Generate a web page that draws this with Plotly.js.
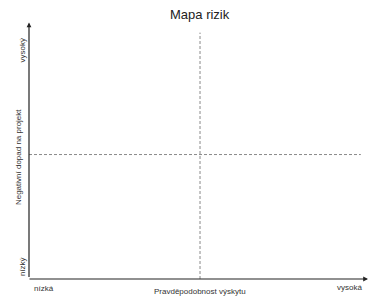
<!DOCTYPE html>
<html><head><meta charset="utf-8">
<script src="https://cdn.plot.ly/plotly-3.0.1.min.js"></script>
<style>html,body{margin:0;padding:0;background:#fff}#chart{width:369px;height:302px}</style>
</head><body><div id="chart"></div>
<script>
var chartTitle = "Mapa rizik";
var xTitle = "Pravděpodobnost výskytu";
var yTitle = "Negativní dopad na projekt";
var xTickLabels = ["nízká", "vysoká"];
var yTickLabels = ["nízký", "vysoký"];
var xDivider = [0.503, 0.503];
var xDividerSpan = [0, 0.97];
var yDivider = [0.49, 0.49];
var yDividerSpan = [0, 0.976];

var font = "Liberation Sans, Arial, sans-serif";
var traces = [
  {x: xDivider, y: xDividerSpan, mode: "lines", line: {color: "#8a8a8a", width: 1, dash: "3px,2px"}, hoverinfo: "skip"},
  {x: yDividerSpan, y: yDivider, mode: "lines", line: {color: "#8a8a8a", width: 1, dash: "3px,2px"}, hoverinfo: "skip"}
];
var ann = [
  {xref: "paper", yref: "paper", x: 0.503, y: 1, yshift: 11, text: chartTitle, showarrow: false, font: {family: font, size: 13, color: "#222"}, yanchor: "middle"},
  {xref: "paper", yref: "paper", x: 0.503, y: 0, yshift: -6, text: xTitle, showarrow: false, font: {family: font, size: 8, color: "#333"}, yanchor: "top"},
  {xref: "paper", yref: "paper", x: 0, xshift: -11, y: 0.48, text: yTitle, textangle: -90, showarrow: false, font: {family: font, size: 8, color: "#333"}, xanchor: "center"},
  {xref: "paper", yref: "paper", x: 0.008, y: 0, yshift: -3, text: xTickLabels[0], showarrow: false, font: {family: font, size: 8, color: "#333"}, xanchor: "left", yanchor: "top"},
  {xref: "paper", yref: "paper", x: 0.985, y: 0, yshift: -2, text: xTickLabels[1], showarrow: false, font: {family: font, size: 8, color: "#333"}, xanchor: "right", yanchor: "top"},
  {xref: "paper", yref: "paper", x: 0, xshift: -7, y: 0.047, text: yTickLabels[0], textangle: -90, showarrow: false, font: {family: font, size: 8, color: "#333"}, xanchor: "center", yanchor: "middle"},
  {xref: "paper", yref: "paper", x: 0, xshift: -7, y: 0.90, text: yTickLabels[1], textangle: -90, showarrow: false, font: {family: font, size: 8, color: "#333"}, xanchor: "center", yanchor: "middle"},
  {xref: "paper", yref: "paper", axref: "pixel", ayref: "pixel", x: 0, y: 1.01, ax: 0, ay: 256, showarrow: true, arrowhead: 2, arrowsize: 0.8, arrowwidth: 1.2, arrowcolor: "#222", text: ""},
  {xref: "paper", yref: "paper", x: 1, y: 0, ax: -341, ay: 0, showarrow: true, arrowhead: 2, arrowsize: 0.8, arrowwidth: 1.2, arrowcolor: "#222", text: ""}
];
var layout = {
  width: 369, height: 302,
  margin: {l: 29, r: 0, t: 25, b: 23},
  paper_bgcolor: "#fff", plot_bgcolor: "#fff",
  showlegend: false,
  xaxis: {range: [0, 1], showgrid: false, zeroline: false, showticklabels: false, ticks: "", showline: false},
  yaxis: {range: [0, 1], showgrid: false, zeroline: false, showticklabels: false, ticks: "", showline: false},
  annotations: ann
};
Plotly.newPlot("chart", traces, layout, {staticPlot: true});
</script></body></html>
